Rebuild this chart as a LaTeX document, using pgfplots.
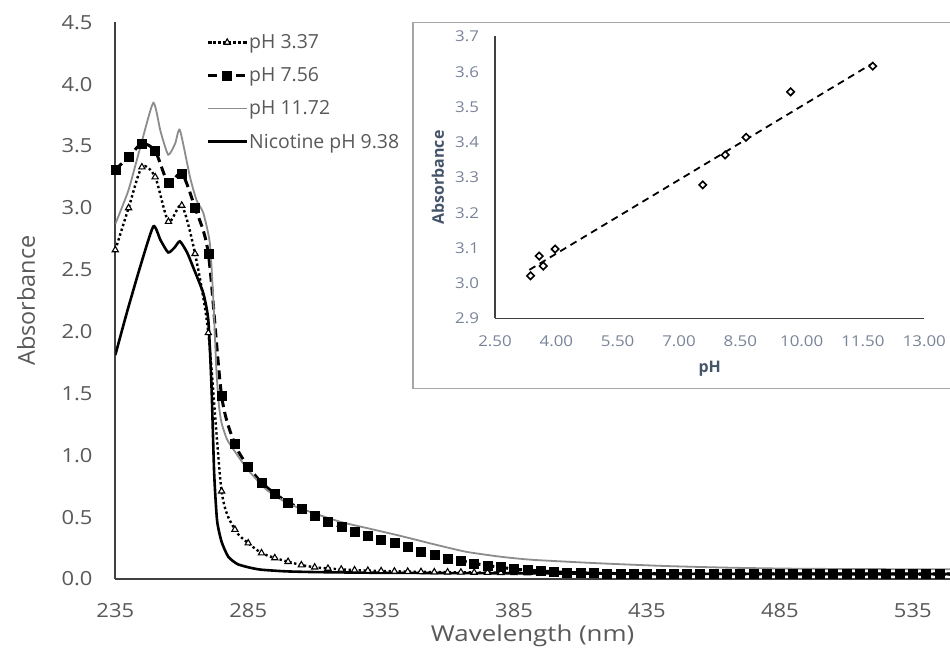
\documentclass[border=0pt]{standalone}
\usepackage{fontspec}
\setmainfont{Open Sans}
\newfontfamily\stretched{Open Sans}[FakeStretch=1.13]
\newfontfamily\wide{Open Sans}[FakeStretch=1.18]
\usepackage{pgfplots}
\pgfplotsset{compat=1.18}
\definecolor{txtgray}{HTML}{595959}
\definecolor{curvegray}{HTML}{8C8C8C}
\definecolor{insettick}{HTML}{7A8499}
\definecolor{insettitle}{HTML}{44546A}
\definecolor{boxgray}{HTML}{A6A6A6}
\definecolor{axisdark}{HTML}{404040}

\pgfplotstableread{
nm A
235 2.66
240 3.00
245 3.33
250 3.25
255 2.89
260 3.02
265 2.63
270 1.99
275 0.71
280 0.40
285 0.29
290 0.21
295 0.17
300 0.14
305 0.113
310 0.095
315 0.085
320 0.078
325 0.072
330 0.068
335 0.065
340 0.062
345 0.060
350 0.058
355 0.056
360 0.055
365 0.054
370 0.053
375 0.052
380 0.051
385 0.050
390 0.049
395 0.048
400 0.047
405 0.046
410 0.046
415 0.045
420 0.045
425 0.044
430 0.044
435 0.043
440 0.043
445 0.042
450 0.042
455 0.042
460 0.041
465 0.041
470 0.041
475 0.040
480 0.040
485 0.040
490 0.040
495 0.039
500 0.039
505 0.039
510 0.039
515 0.038
520 0.038
525 0.038
530 0.038
535 0.038
540 0.037
545 0.037
550 0.037
}\phlow

\pgfplotstableread{
nm A
235 3.31
240 3.41
245 3.52
250 3.46
255 3.20
260 3.28
265 3.00
270 2.63
275 1.48
280 1.09
285 0.91
290 0.78
295 0.69
300 0.62
305 0.566
310 0.515
315 0.463
320 0.42
325 0.386
330 0.35
335 0.32
340 0.29
345 0.26
350 0.221
355 0.194
360 0.167
365 0.148
370 0.127
375 0.108
380 0.095
385 0.080
390 0.072
395 0.065
400 0.058
405 0.054
410 0.050
415 0.047
420 0.045
425 0.044
430 0.043
435 0.043
440 0.042
445 0.042
450 0.042
455 0.042
460 0.042
465 0.042
470 0.042
475 0.042
480 0.042
485 0.042
490 0.042
495 0.042
500 0.042
505 0.042
510 0.042
515 0.042
520 0.042
525 0.042
530 0.042
535 0.042
540 0.042
545 0.042
550 0.042
}\phmid

\pgfplotstableread{
nm A
235 2.87
239.9 3.14
244.4 3.49
249.3 3.85
252 3.62
254.9 3.43
257.5 3.52
259.3 3.63
263.1 3.25
265.6 3.06
268.1 2.96
270.6 2.71
272 2.20
273 1.70
274 1.40
275 1.26
277 1.13
280 1.03
285 0.88
292 0.72
300 0.61
310 0.53
320 0.46
330 0.41
342 0.35
355 0.28
367 0.22
380 0.18
392 0.155
417 0.127
442 0.105
467 0.091
492 0.083
520 0.080
550 0.078
}\phhigh

\pgfplotstableread{
nm A
235 1.81
239.3 2.15
244.3 2.52
249.3 2.85
252 2.74
254.9 2.64
257.3 2.68
259.3 2.73
262 2.64
264.3 2.52
268.1 2.31
270 2.09
271.2 1.55
272.2 0.85
273.3 0.47
275 0.30
277.5 0.18
281 0.12
286 0.09
290 0.075
299 0.062
310 0.056
330 0.051
360 0.048
400 0.045
450 0.042
550 0.040
}\nicotine

\begin{document}
\begin{tikzpicture}
\useasboundingbox (0bp,0bp) rectangle (950bp,662bp);
\fill[white] (0bp,0bp) rectangle (950bp,662bp);
\begin{axis}[
  at={(115.3bp,83bp)}, anchor=south west,
  scale only axis, width=834.7bp, height=556.6bp,
  xmin=235, xmax=549, ymin=0, ymax=4.5,
  axis x line*=bottom, axis y line*=left,
  axis line style={-, line width=1.8bp, color=axisdark},
  xtick={235,285,335,385,435,485,535},
  ytick={0,0.5,1,1.5,2,2.5,3,3.5,4,4.5},
  major tick length=0pt,
  /pgf/number format/assume math mode=true,
  yticklabel={\pgfmathprintnumber[fixed,fixed zerofill,precision=1]{\tick}},
  tick label style={font=\stretched\fontsize{19.5}{23}\selectfont, text=txtgray},
  xticklabel style={anchor=base, yshift=-38bp},
  yticklabel style={anchor=east, xshift=-19.3bp},
  xlabel={Wavelength (nm)}, ylabel={Absorbance},
  label style={text=txtgray},
  xlabel style={font=\wide\fontsize{22}{26}\selectfont, at={(axis description cs:0.5,0)}, anchor=base, yshift=-62bp},
  ylabel style={font=\fontsize{23.5}{28}\selectfont, at={(axis description cs:-0.107,0.5)}, anchor=center},
  legend style={at={(axis description cs:0.1093,0.981)}, anchor=north west,
    draw=none, fill=none, font=\fontsize{19.5}{23}\selectfont, text=txtgray,
    inner sep=0pt, row sep=14.5bp, nodes={inner sep=1.5bp}},
  legend cell align=left,
  legend image code/.code={\draw[mark repeat=2,mark phase=2,#1] plot coordinates {(0bp,0bp) (19bp,0bp) (38bp,0bp)};},
]
\addplot[black, line width=2.4bp, dash pattern=on 2.4bp off 2.6bp, smooth, tension=0.45,
  mark=triangle*, mark size=3.6bp, mark options={solid, fill=white, draw=black, line width=1.1bp}]
  table[x=nm, y=A] {\phlow};
\addlegendentry{pH 3.37}
\addplot[black, line width=3bp, dash pattern=on 9bp off 5bp, smooth, tension=0.45,
  mark=square*, mark size=4.5bp, mark options={solid, fill=black, line width=0.5bp}]
  table[x=nm, y=A] {\phmid};
\addlegendentry{pH 7.56}
\addplot[curvegray, line width=1.8bp, smooth, tension=0.35, no markers]
  table[x=nm, y=A] {\phhigh};
\addlegendentry{pH 11.72}
\addplot[black, line width=2.6bp, smooth, tension=0.35, no markers]
  table[x=nm, y=A] {\nicotine};
\addlegendentry{Nicotine pH 9.38}
\end{axis}

\draw[boxgray, line width=1.3bp, fill=white] (413bp,273.7bp) rectangle (990bp,639.3bp);

\begin{axis}[
  at={(495bp,343.5bp)}, anchor=south west,
  scale only axis, width=429.3bp, height=282bp,
  xmin=2.5, xmax=13, ymin=2.9, ymax=3.7,
  axis x line*=bottom, axis y line*=left,
  axis line style={-, line width=1.8bp, color=axisdark},
  xtick={2.5,4,5.5,7,8.5,10,11.5,13},
  ytick={2.9,3,3.1,3.2,3.3,3.4,3.5,3.6,3.7},
  major tick length=0pt,
  /pgf/number format/assume math mode=true,
  xticklabel={\pgfmathprintnumber[fixed,fixed zerofill,precision=2]{\tick}},
  yticklabel={\pgfmathprintnumber[fixed,fixed zerofill,precision=1]{\tick}},
  tick label style={font=\stretched\fontsize{15}{18}\selectfont, text=insettick},
  xticklabel style={anchor=base, yshift=-28.5bp},
  yticklabel style={anchor=east, xshift=-12.5bp},
  xlabel={pH}, ylabel={Absorbance},
  label style={font=\fontsize{16}{19}\selectfont\bfseries, text=insettitle},
  xlabel style={at={(axis description cs:0.5,0)}, anchor=base, yshift=-54.5bp},
  ylabel style={at={(axis description cs:-0.133,0.5)}, anchor=center},
  clip=false,
]
\addplot[black, line width=1.8bp, dash pattern=on 7bp off 5bp]
  coordinates {(3.34,3.038) (11.71,3.622)};
\addplot[only marks, mark=square*, mark size=2.6bp,
  mark options={rotate=45, fill=white, draw=black, line width=1.6bp}]
  coordinates {
  (3.37,3.021) (3.58,3.077) (3.68,3.049) (3.97,3.097) (7.58,3.279)
  (8.13,3.364) (8.64,3.414) (9.73,3.543) (11.74,3.616)};
\end{axis}
\end{tikzpicture}
\end{document}
